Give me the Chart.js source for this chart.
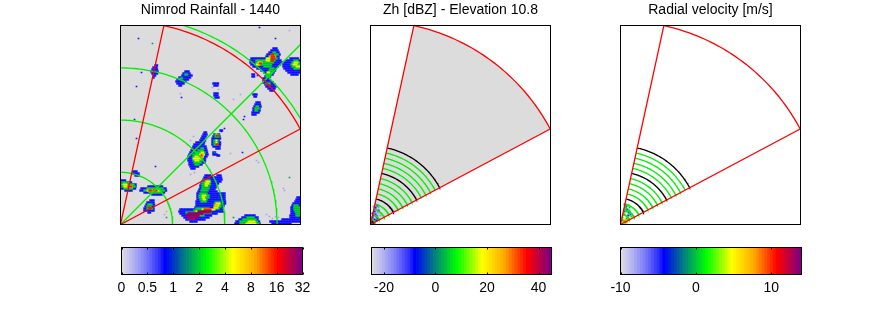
<!DOCTYPE html>
<html>
<head>
<meta charset="utf-8">
<title>Radar panels</title>
<script src="https://cdn.jsdelivr.net/npm/chart.js@4"></script>
<style>
  html, body { margin: 0; padding: 0; background: #fff; }
  body { position: relative; width: 889px; height: 333px; overflow: hidden; }
  .box { position: absolute; }
</style>
</head>
<body>
<div class="box" style="left:110px;top:0;width:200px;height:235px"><canvas id="mapRain"></canvas></div>
<div class="box" style="left:360px;top:0;width:200px;height:235px"><canvas id="mapZh"></canvas></div>
<div class="box" style="left:610px;top:0;width:200px;height:235px"><canvas id="mapVel"></canvas></div>
<div class="box" style="left:100px;top:240px;width:225px;height:60px"><canvas id="barRain"></canvas></div>
<div class="box" style="left:350px;top:240px;width:225px;height:60px"><canvas id="barZh"></canvas></div>
<div class="box" style="left:600px;top:240px;width:225px;height:60px"><canvas id="barVel"></canvas></div>
<script>
// colour table shared by all three colour bars
const colourTable = [
  '#dcdcdc','#d0d0e8','#c6c6ee','#bcbcf0','#b0b0f2','#a4a4f4','#9898f6','#8c8cf8',
  '#7f7ff9','#7070fa','#6060fb','#5050fb','#4040fc','#3030fd','#1818fe','#0000ff',
  '#0012ec','#0024da','#0037c8','#0049b5','#005ba3','#006e91','#00807f','#008f6f',
  '#009f60','#00af50','#00bf40','#00cf30','#00df20','#00ef10','#00ff00','#1cff00',
  '#39ff00','#55ff00','#71ff00','#8eff00','#aaff00','#c6ff00','#e3ff00','#ffff00',
  '#fff500','#ffea00','#ffdf00','#ffd400','#ffc900','#ffbe00','#ffb300','#ffa500',
  '#ff9000','#ff7b00','#ff6600','#ff5200','#ff3d00','#ff2900','#ff1400','#ff0000',
  '#f00010','#e00020','#d00030','#c00040','#b00050','#a00060','#900070','#800080'
];

// colour bar ticks
const rainTicks = ['0', '0.5', '1', '2', '4', '8', '16', '32'];
const zhTicks = [-20, 0, 20, 40];
const velTicks = [-10, 0, 10];

// map units, distance from the radar along x and y
const mapWidth = 180;
const mapHeight = 199;
const coarseRings = [52.2, 104.4, 156.6, 208.8];
const sectorRange = 203.5;
const sectorAzimuths = [12.3, 62];
const diagonalAzimuth = 45;
const fineRings = [5.2, 10.4, 15.7, 20.9, 31.3, 36.5, 41.8, 47, 57.4, 62.6, 67.9, 73.1];
const blackRings = [26.1, 52.2, 78.3];

// rainfall: [y, xStart, xEnd], one list per colour band
const rainBlue = [
  [176,153,156],[174,151,158],[172,149,159],[170,147,159],[168,146,159],[166,131,159],[164,130,160],[162,130,162],[160,131,160],[158,133,157],[156,137,156],[154,141,155],[152,144,153],[150,146,152],[148,145,150],[146,143,148],
  [144,143,149],[142,143,153],[140,145,155],[138,146,155],[136,148,155],[134,150,153],[150,132,134],[148,132,134],
  [166,170,178],[164,166,180],[162,164,180],[160,163,180],[158,163,180],[156,164,180],[154,166,180],[152,168,180],[150,171,178],
  [122,136,139],[120,135,140],[118,134,140],[116,133,140],[114,133,139],[112,132,138],[110,132,136],[130,133,136],[128,134,136],
  [92,84,86],[90,83,86],[88,82,85],[86,81,85],[84,80,85],[82,76,84],[80,74,84],[78,73,85],[76,72,86],[74,71,87],[72,70,87],[70,69,87],[68,68,86],[66,68,85],[64,68,85],[62,69,84],[60,69,82],[58,70,78],[56,71,74],
  [90,94,99],[88,93,100],[86,92,100],[84,92,99],[82,92,100],[80,92,100],[78,93,99],[76,96,99],[94,100,102],[72,93,95],[70,93,96],[69,97,99],
  [153,65,68],[151,63,69],[149,62,71],[147,59,70],[145,57,68],[143,56,65],[141,57,63],[139,59,61],
  [141,93,98],[139,94,97],[131,94,98],[129,94,98],[127,95,98],
  [49,85,90],[49,97,100],[47,84,101],[45,83,102],[43,82,100],[41,81,98],[39,80,96],[37,80,95],[35,79,94],[33,78,97],[31,77,104],[29,77,105],[27,77,105],[25,77,105],[23,76,105],[21,76,105],[19,76,104],[17,75,103],[15,60,103],[13,59,103],[11,60,97],[9,62,91],[7,64,88],[5,66,84],[3,70,76],
  [9,125,135],[7,122,137],[5,119,138],[3,116,139],[1,115,139],
  [3,150,180],[1,152,170],[5,162,172],[5,172,180],[7,170,180],[9,170,180],[11,171,180],[13,171,180],[15,171,180],[17,171,180],[19,172,180],[21,173,180],[23,175,180],[25,176,180],[27,177,180],
  [44,0,5],[42,0,11],[40,0,16],[38,0,16],[36,1,15],[34,5,12],
  [38,28,42],[36,21,46],[34,20,46],[32,24,44],[30,32,42],
  [24,30,33],[22,27,33],[20,26,34],[18,25,33],[16,24,34],[14,24,33],[12,28,30],
  [53,13,16],[51,12,18],[49,15,18],
  [159,35,37],[157,33,37],[155,32,37],[153,31,38],[151,32,37],[149,33,35],[147,33,34]
];
const rainGreen = [
  [172,153,155],[170,151,157],[168,149,156],[166,147,156],[164,136,155],[162,136,153],[160,137,151],[158,144,150],[156,150,154],[154,149,153],[152,147,152],[150,147,151],[148,146,149],
  [164,174,178],[162,172,180],[160,171,180],[158,172,180],[156,174,179],
  [118,136,138],[116,135,138],[114,135,137],[141,146,149],
  [76,81,83],[74,78,83],[72,75,84],[70,73,84],[68,73,83],[66,73,82],[64,73,81],[62,74,80],[60,75,78],
  [90,95,98],[88,95,98],[84,94,97],[82,94,98],[80,94,98],[146,60,62],[150,65,67],
  [44,83,89],[42,82,90],[40,82,90],[38,82,89],[36,82,88],[34,81,87],[31,80,86],[29,79,88],[27,79,88],[25,80,87],[23,81,86],
  [22,95,100],[20,94,101],[18,94,100],[16,95,99],[16,76,88],[14,74,90],[12,66,90],[9,68,84],
  [7,127,134],[5,123,136],[3,120,137],[1,120,138],
  [19,174,177],[17,174,179],[15,174,180],[13,175,180],[11,176,180],[9,176,179],
  [42,2,8],[40,1,13],[38,2,14],[36,4,12],[36,27,42],[34,24,44],[32,29,41],[20,28,31],[18,27,31],[16,27,32]
];
const rainYellow = [
  [168,150,155],[166,146,150],[164,146,150],[162,138,142],[160,136,139],[152,147,149],
  [162,174,178],[160,173,177],[158,176,179],
  [72,81,83],[70,79,84],[68,75,83],[66,73,81],[64,75,79],[90,96,97],[84,96,97],[82,96,97],
  [43,86,89],[41,85,88],[39,85,87],[29,82,85],[27,82,84],[25,83,85],[21,96,99],[19,95,99],[17,94,97],[15,82,94],[13,76,88],[11,72,80],[9,70,74],
  [3,128,134],[1,126,136],[40,3,6],[38,4,12],[34,27,40]
];
const rainOrange = [
  [168,150,153],[162,140,142],[70,81,83],[68,79,82],[20,95,97],[18,95,97],[38,7,12],[34,28,38],[13,80,88]
];
const rainRed = [
  [170,151,153],[168,151,154],[166,151,154],[164,151,153],[161,139,141],[139,148,150],[69,81,82],[89,96,98],[80,96,98],[38,8,11],[34,29,31],[34,33,37],[17,28,30],[15,84,90],[12,79,88],[6,68,74]
];
const rainPurple = [
  [11,68,82],[9,66,78],[7,68,78],[13,78,90]
];
// isolated cells
const rainSpecksBlue = [
  [18,186],[16,138],[21,152],[16,86],[14,105],[61,127],[155,186],[139,197],[35,58],[101,93],[123,105],[124,108],[122,72],[93,71],[98,69],[137,149],[104,96]
];
const rainSpecksLilac = [
  [169,194],[163,36],[136,64],[138,62],[146,10],[149,8],[152,6],[155,8],[158,7],[70,84],[73,88],[67,80],[110,71],[32,146],[31,151],[113,125],[60,131],[164,34],[44,10],[120,130],[74,52],[70,50],[98,135],[92,137]
];
const rainSpecksTeal = [[32,181],[113,7],[169,47],[94,72],[46,7]];
const rainSpecksOrange = [[46,13]];

// radar returns close to the origin
const zhLilac = [[7,12],[5,16],[9,12],[8,17],[4,11],[6,14],[10,9],[3,18],[7,9],[5,20]];
const zhBlue = [[5,17],[7,19],[4,13],[2,7],[4,5],[6,8],[3,9],[8,14],[1,4],[6,4],[3,3],[2,11],[5,10],[7,6]];
const zhDark = [[1,2],[2,3],[1,4],[3,1]];
const velGreen = [[2,7],[4,10],[8,19],[5,17],[6,13],[2,4],[7,9],[11,8],[4,20],[9,14],[4,15],[9,17]];
const velTeal = [[6,18],[7,15],[4,13],[10,10],[3,10],[8,12],[6,6]];
const velBlue = [[9,12],[6,15],[8,9],[5,20]];
const velOrange = [[5,4],[7,5],[3,3],[6,2]];
const velYellow = [[4,6],[7,3],[9,5],[2,2]];

// polar helpers, azimuth in degrees from north
const polarPoint = (r, az) => ({
  x: r * Math.sin(az * Math.PI / 180),
  y: r * Math.cos(az * Math.PI / 180)
});
const arcPoints = (r, az0, az1) => {
  const pts = [];
  for (let az = az0; az < az1; az += 1) pts.push(polarPoint(r, az));
  pts.push(polarPoint(r, az1));
  return pts;
};
const toPoints = (list) => list.map(item => ({ x: item[0], y: item[1] }));
const runPoints = (runs) => {
  const pts = [];
  runs.forEach(run => {
    for (let x = run[1]; x <= run[2]; x += 1.5) pts.push({ x: x, y: run[0] });
  });
  return pts;
};

const lineSet = (data, colour, extra) => Object.assign({
  data: data,
  showLine: true,
  borderColor: colour,
  borderWidth: 1.3,
  pointRadius: 0,
  tension: 0,
  fill: false
}, extra);

const cellSet = (points, colour, size) => ({
  data: points,
  pointStyle: 'rect',
  pointRadius: size,
  pointBackgroundColor: colour,
  pointBorderWidth: 0,
  showLine: false
});

const sectorOutline = () => [{ x: 0, y: 0 }]
  .concat(arcPoints(sectorRange, sectorAzimuths[0], sectorAzimuths[1]))
  .concat([{ x: 0, y: 0 }]);

// frame and inward ticks, drawn over the plot
const framePlugin = {
  id: 'frame',
  beforeDatasetsDraw(chart, args, opts) {
    if (!opts.background) return;
    const a = chart.chartArea;
    chart.ctx.fillStyle = opts.background;
    chart.ctx.fillRect(a.left, a.top, a.right - a.left, a.bottom - a.top);
  },
  afterDraw(chart, args, opts) {
    const a = chart.chartArea;
    const ctx = chart.ctx;
    ctx.save();
    ctx.strokeStyle = '#000';
    ctx.lineWidth = 1;
    ctx.strokeRect(a.left, a.top, a.right - a.left, a.bottom - a.top);
    if (opts.ticks) {
      ctx.beginPath();
      chart.scales.x.ticks.forEach(t => {
        const px = Math.round(chart.scales.x.getPixelForValue(t.value)) + 0.5;
        ctx.moveTo(px, a.top);
        ctx.lineTo(px, a.top + 2);
        ctx.moveTo(px, a.bottom);
        ctx.lineTo(px, a.bottom - 2);
      });
      ctx.stroke();
    }
    ctx.restore();
  }
};

const mapChart = (id, title, background, datasets) => new Chart(document.getElementById(id), {
  type: 'scatter',
  data: { datasets: datasets.slice().reverse() },
  options: {
    responsive: true,
    maintainAspectRatio: false,
    animation: false,
    layout: { padding: { left: 10.5, right: 9.5, bottom: 10.5 } },
    scales: {
      x: { display: false, min: 0, max: mapWidth },
      y: { display: false, min: 0, max: mapHeight }
    },
    plugins: {
      legend: { display: false },
      tooltip: { enabled: false },
      title: {
        display: true,
        text: title,
        color: '#000',
        font: { family: 'Liberation Sans', size: 14, weight: 'normal', lineHeight: 1.2 },
        padding: { top: 1.7, bottom: 7 }
      },
      frame: { background: background }
    }
  },
  plugins: [framePlugin]
});

const barChart = (id, lo, hi, tickValues, tickText, padLeft, padRight) => {
  const step = (hi - lo) / colourTable.length;
  const centres = colourTable.map((c, i) => lo + (i + 0.5) * step);
  return new Chart(document.getElementById(id), {
    type: 'bar',
    data: {
      datasets: [{
        data: centres.map(v => ({ x: v, y: 1 })),
        backgroundColor: colourTable,
        borderWidth: 0,
        barThickness: 3
      }]
    },
    options: {
      responsive: true,
      maintainAspectRatio: false,
      animation: false,
      layout: { padding: { left: padLeft, right: padRight, top: 7.5 } },
      scales: {
        x: {
          type: 'linear',
          min: lo,
          max: hi,
          offset: false,
          afterBuildTicks(axis) { axis.ticks = tickValues.map(v => ({ value: v })); },
          afterFit(axis) { axis.height = 25.5; },
          grid: { display: false, drawTicks: false },
          border: { display: false },
          ticks: {
            autoSkip: false,
            maxRotation: 0,
            padding: 5.5,
            color: '#000',
            font: { family: 'Liberation Sans', size: 14 },
            callback: (v) => tickText(v)
          }
        },
        y: { display: false, min: 0, max: 1 }
      },
      plugins: {
        legend: { display: false },
        tooltip: { enabled: false },
        frame: { ticks: true }
      }
    },
    plugins: [framePlugin]
  });
};

// drawn bottom first, mapChart reverses so later sets stay on top
mapChart('mapRain', 'Nimrod Rainfall - 1440', '#dcdcdc', [
  cellSet(toPoints(rainSpecksLilac), '#a4a4f4', 1.2),
  cellSet(runPoints(rainBlue), '#8c8cf8', 2),
  cellSet(runPoints(rainBlue), '#1010ff', 1.45),
  cellSet(toPoints(rainSpecksBlue), '#1010ff', 1.2),
  cellSet(runPoints(rainGreen), '#008f6f', 1.8),
  cellSet(runPoints(rainGreen), '#00e020', 1.2),
  cellSet(toPoints(rainSpecksTeal), '#00a060', 1.2),
  cellSet(runPoints(rainYellow), '#f0ff00', 1.3),
  cellSet(runPoints(rainOrange), '#ffa500', 1.2),
  cellSet(toPoints(rainSpecksOrange), '#ffa500', 1),
  cellSet(runPoints(rainRed), '#ff1400', 1.3),
  cellSet(runPoints(rainPurple), '#900070', 1.6),
  ...coarseRings.map(r => lineSet(arcPoints(r, 0, 90), '#00ee00')),
  lineSet([{ x: 0, y: 0 }, polarPoint(270, diagonalAzimuth)], '#00ee00'),
  lineSet(sectorOutline(), '#ff0000')
]);

mapChart('mapZh', 'Zh [dBZ] - Elevation 10.8', null, [
  lineSet(sectorOutline(), 'rgba(0,0,0,0)', { fill: 'shape', backgroundColor: '#dcdcdc' }),
  cellSet(toPoints(zhLilac), '#9898f6', 1.5),
  cellSet(toPoints(zhBlue), '#1818fe', 1.5),
  cellSet(toPoints(zhDark), '#000080', 1.7),
  ...fineRings.map(r => lineSet(arcPoints(r, sectorAzimuths[0], sectorAzimuths[1]), '#00ee00')),
  ...blackRings.map(r => lineSet(arcPoints(r, sectorAzimuths[0], sectorAzimuths[1]), '#000')),
  lineSet(sectorOutline(), '#ff0000')
]);

mapChart('mapVel', 'Radial velocity [m/s]', null, [
  cellSet(toPoints(velGreen), '#00e020', 1.5),
  cellSet(toPoints(velTeal), '#00807f', 1.4),
  cellSet(toPoints(velBlue), '#3030fd', 1.4),
  cellSet(toPoints(velYellow), '#f0ff00', 1.4),
  cellSet(toPoints(velOrange), '#ff9000', 1.5),
  ...fineRings.map(r => lineSet(arcPoints(r, sectorAzimuths[0], sectorAzimuths[1]), '#00ee00')),
  ...blackRings.map(r => lineSet(arcPoints(r, sectorAzimuths[0], sectorAzimuths[1]), '#000')),
  lineSet(sectorOutline(), '#ff0000')
]);

barChart('barRain', 0, 7, rainTicks.map((t, i) => i), v => rainTicks[v], 21.5, 22.5);
barChart('barZh', -24.8, 45, zhTicks, v => String(v), 21.5, 23.5);
barChart('barVel', -10, 14, velTicks, v => String(v), 20.5, 23.5);
</script>
</body>
</html>
